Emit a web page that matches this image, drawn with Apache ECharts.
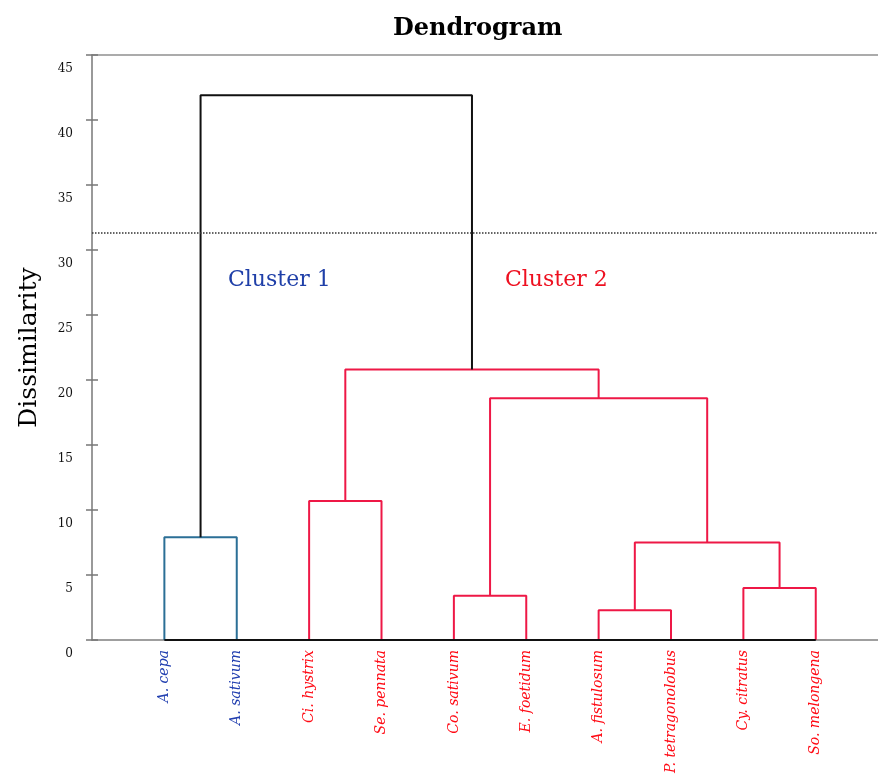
<!DOCTYPE html>
<html>
<head>
<meta charset="utf-8">
<style>
  html, body { margin: 0; padding: 0; background: #fff; }
  #chart { width: 878px; height: 776px; }
</style>
<script src="https://cdn.jsdelivr.net/npm/echarts@6/dist/echarts.min.js"></script>
</head>
<body>
<div id="chart"></div>
<script>
// leaves, left to right
const leaves = ['A. cepa', 'A. sativum', 'Ci. hystrix', 'Se. pennata', 'Co. sativum',
  'E. foetidum', 'A. fistulosum', 'P. tetragonolobus', 'Cy. citratus', 'So. melongena']
const leafCluster = [1, 1, 2, 2, 2, 2, 2, 2, 2, 2]

// merges (index >= leaves.length refers to an earlier merge)
const mergeLeft = [0, 2, 4, 6, 8, 13, 12, 11, 10]
const mergeRight = [1, 3, 5, 7, 9, 14, 15, 16, 17]
const mergeHeight = [7.9, 10.7, 3.4, 2.3, 4.0, 7.5, 18.6, 20.8, 41.9]
const mergeColor = ['#2b6f96', '#ee1846', '#ee1846', '#ee1846', '#ee1846',
  '#ee1846', '#ee1846', '#ee1846', '#111111']

const yTicks = [0, 5, 10, 15, 20, 25, 30, 35, 40, 45]
const cutHeight = 31.3

const chart = echarts.init(document.getElementById('chart'))

// node x / height
const nodeX = leaves.map((_, i) => i)
const nodeH = leaves.map(() => 0)
const links = []
mergeLeft.forEach((l, k) => {
  const r = mergeRight[k]
  const h = mergeHeight[k]
  links.push({
    color: mergeColor[k],
    data: [[nodeX[l], nodeH[l]], [nodeX[l], h], [nodeX[r], h], [nodeX[r], nodeH[r]]]
  })
  nodeX.push((nodeX[l] + nodeX[r]) / 2)
  nodeH.push(h)
})

const series = links.map(lk => ({
  type: 'line',
  data: lk.data,
  symbol: 'none',
  silent: true,
  lineStyle: { color: lk.color, width: 2 },
  z: 3
}))

// base line under the leaves
series.push({
  type: 'line',
  data: [[0, 0], [leaves.length - 1, 0]],
  symbol: 'none',
  silent: true,
  lineStyle: { color: '#111', width: 2 },
  z: 4,
  markLine: {
    silent: true,
    symbol: 'none',
    label: { show: false },
    lineStyle: { color: '#333', type: 'dotted', width: 1.5 },
    data: [{ yAxis: cutHeight }]
  }
})

const option = {
  backgroundColor: '#fff',
  animation: false,
  title: {
    text: 'Dendrogram',
    left: 388,
    top: 12,
    textStyle: { fontFamily: 'DejaVu Serif', fontWeight: 'bold', fontSize: 24, color: '#000' }
  },
  grid: { left: 92, right: 0, top: 55, bottom: 132 },
  xAxis: [{
    type: 'value',
    min: -1,
    max: 9.86,
    interval: 1,
    splitLine: { show: false },
    axisTick: { show: false },
    axisLine: { onZero: false, lineStyle: { color: '#808080', width: 1.5 } },
    axisLabel: {
      rotate: 90,
      margin: 10,
      showMaxLabel: false,
      formatter: v => {
        if (!Number.isInteger(v) || v < 0 || v >= leaves.length) return ''
        return (leafCluster[v] === 1 ? '{b|' : '{r|') + leaves[v] + '}'
      },
      rich: {
        b: { fontFamily: 'DejaVu Serif', fontStyle: 'italic', fontSize: 14, color: '#2340b0' },
        r: { fontFamily: 'DejaVu Serif', fontStyle: 'italic', fontSize: 14, color: '#ff0a14' }
      }
    }
  }, {
    type: 'value',
    position: 'top',
    min: -1,
    max: 9.86,
    splitLine: { show: false },
    axisTick: { show: false },
    axisLabel: { show: false },
    axisLine: { onZero: false, lineStyle: { color: '#909090', width: 1.5 } }
  }],
  yAxis: [{
    type: 'value',
    min: 0,
    max: 45,
    interval: 5,
    name: 'Dissimilarity',
    nameLocation: 'middle',
    nameGap: 50,
    nameTextStyle: { fontFamily: 'DejaVu Serif', fontSize: 25, color: '#000' },
    splitLine: { show: false },
    axisLine: { onZero: false, lineStyle: { color: '#777', width: 1.5 } },
    axisTick: { length: 6, lineStyle: { color: '#777', width: 1.5 } },
    axisLabel: {
      margin: 19,
      verticalAlign: 'top',
      padding: [8, 0, 0, 0],
      fontFamily: 'DejaVu Serif',
      fontSize: 12,
      color: '#111',
      formatter: v => yTicks.includes(v) ? String(v) : ''
    }
  }, {
    type: 'value',
    position: 'left',
    min: 0,
    max: 45,
    interval: 5,
    splitLine: { show: false },
    axisLine: { show: false, onZero: false },
    axisLabel: { show: false },
    axisTick: { inside: true, length: 6, lineStyle: { color: '#777', width: 1.5 } }
  }],
  graphic: [
    { type: 'text', left: 228, top: 269,
      style: { text: 'Cluster 1', fill: '#1f3fa8', font: '22px "DejaVu Serif"' } },
    { type: 'text', left: 505, top: 269,
      style: { text: 'Cluster 2', fill: '#ee1020', font: '22px "DejaVu Serif"' } }
  ],
  series
}

chart.setOption(option)
window.addEventListener('resize', () => chart.resize())
</script>
</body>
</html>
